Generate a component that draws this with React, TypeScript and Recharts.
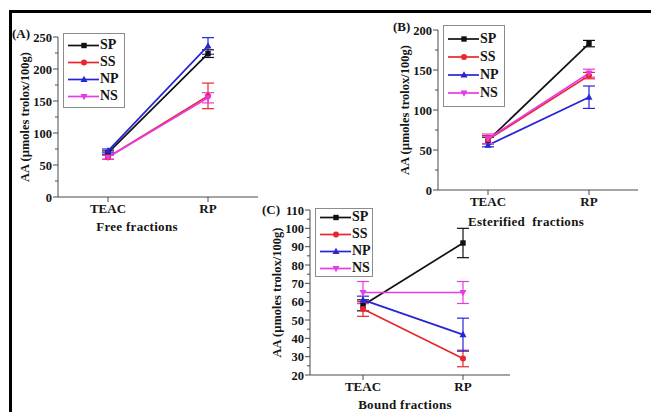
import { ErrorBar, Legend, Line, LineChart, XAxis, YAxis } from "recharts";

const categories = ["TEAC", "RP"];
const seriesNames = ["SP", "SS", "NP", "NS"];

// (A) free fractions
const freeSP = [69, 224];
const freeSS = [62, 158];
const freeNP = [72, 236];
const freeNS = [62, 155];
const freeSPErr = [3, 6];
const freeSSErr = [3, 20];
const freeNPErr = [3, 13];
const freeNSErr = [3, 8];
const freeTicks = [0, 25, 50, 75, 100, 125, 150, 175, 200, 225, 250];

// (B) esterified fractions
const estSP = [62, 183];
const estSS = [63, 143];
const estNP = [56, 116];
const estNS = [64, 146];
const estSPErr = [4, 4];
const estSSErr = [5, 4];
const estNPErr = [2, 14];
const estNSErr = [6, 5];
const estTicks = [0, 25, 50, 75, 100, 125, 150, 175, 200];

// (C) bound fractions
const boundSP = [58, 92];
const boundSS = [56, 29];
const boundNP = [61, 42];
const boundNS = [65, 65];
const boundSPErr = [3, 8];
const boundSSErr = [4, 4.5];
const boundNPErr = [2, 9];
const boundNSErr = [6, 6];
const boundTicks = [20, 25, 30, 35, 40, 45, 50, 55, 60, 65, 70, 75, 80, 85, 90, 95, 100, 105, 110];

const FONT = '"Liberation Serif", "Times New Roman", serif';
const AXIS = "#4a4a4a";
const INK = "#151515";

const styles: Record<string, { color: string; marker: string }> = {
  SP: { color: "#111111", marker: "square" },
  SS: { color: "#e8262c", marker: "circle" },
  NP: { color: "#2626d4", marker: "up" },
  NS: { color: "#e63ae6", marker: "down" },
};

const buildRows = (vals: number[][], errs: number[][]) =>
  categories.map((name, i) => {
    const row: Record<string, any> = { name };
    seriesNames.forEach((s, k) => {
      row[s] = vals[k][i];
      row[s + "Err"] = errs[k][i];
    });
    return row;
  });

const freeRows = buildRows([freeSP, freeSS, freeNP, freeNS], [freeSPErr, freeSSErr, freeNPErr, freeNSErr]);
const estRows = buildRows([estSP, estSS, estNP, estNS], [estSPErr, estSSErr, estNPErr, estNSErr]);
const boundRows = buildRows([boundSP, boundSS, boundNP, boundNS], [boundSPErr, boundSSErr, boundNPErr, boundNSErr]);

const Marker = ({ cx, cy, shape, color }: any) => {
  if (cx == null || cy == null) return null;
  if (shape === "square") return <rect x={cx - 2.7} y={cy - 2.7} width={5.4} height={5.4} fill={color} />;
  if (shape === "circle") return <circle cx={cx} cy={cy} r={3} fill={color} />;
  if (shape === "up")
    return <polygon points={`${cx},${cy - 3.8} ${cx - 3.5},${cy + 2.6} ${cx + 3.5},${cy + 2.6}`} fill={color} />;
  return <polygon points={`${cx},${cy + 3.8} ${cx - 3.5},${cy - 2.6} ${cx + 3.5},${cy - 2.6}`} fill={color} />;
};

const YTick = ({ x, y, payload, major }: any) => {
  const isMajor = payload.value % major === 0;
  return (
    <g>
      <line x1={x - (isMajor ? 5 : 3)} x2={x} y1={y} y2={y} stroke={AXIS} strokeWidth={1} />
      {isMajor && (
        <text x={x - 6} y={y} dy={4.5} textAnchor="end" fontFamily={FONT} fontWeight="bold" fontSize={12.5} fill={INK}>
          {payload.value}
        </text>
      )}
    </g>
  );
};

const LegendBox = ({ width, height, rowH }: any) => (
  <div
    style={{
      width,
      height,
      boxSizing: "border-box",
      border: "1px solid #8c8c8c",
      background: "#fff",
      display: "flex",
      flexDirection: "column",
      justifyContent: "center",
    }}
  >
    {seriesNames.map((name) => (
      <div key={name} style={{ display: "flex", alignItems: "center", height: rowH }}>
        <svg width={36} height={rowH} style={{ display: "block" }}>
          <line x1={4} x2={35} y1={rowH / 2} y2={rowH / 2} stroke={styles[name].color} strokeWidth={1.7} />
          <Marker cx={20} cy={rowH / 2} shape={styles[name].marker} color={styles[name].color} />
        </svg>
        <span style={{ fontFamily: FONT, fontWeight: "bold", fontSize: 14, color: INK, lineHeight: 1 }}>{name}</span>
      </div>
    ))}
  </div>
);

const Panel = ({
  rows,
  ticks,
  major,
  xTitle,
  left,
  top,
  height,
  padLeft,
  padRight,
  legend,
  titleDx,
  titleOffset,
}: any) => (
  <div style={{ position: "absolute", left, top, width: 248, height }}>
    <LineChart
      width={248}
      height={height}
      data={rows}
      margin={{ top: 17, right: 0, left: 0, bottom: 0 }}
      style={{ overflow: "visible" }}
    >
      <XAxis
        dataKey="name"
        height={40}
        padding={{ left: padLeft, right: padRight }}
        interval={0}
        tickSize={5}
        tickMargin={2}
        axisLine={{ stroke: AXIS }}
        tickLine={{ stroke: AXIS }}
        tick={{ fontFamily: FONT, fontWeight: "bold", fontSize: 13, fill: INK }}
        label={{
          value: xTitle,
          position: "insideBottom",
          offset: titleOffset,
          dx: titleDx,
          style: { fontFamily: FONT, fontWeight: "bold", fontSize: 13, letterSpacing: 0.3, fill: INK },
        }}
      />
      <YAxis
        width={48}
        type="number"
        domain={[ticks[0], ticks[ticks.length - 1]]}
        allowDataOverflow
        ticks={ticks}
        interval={0}
        tickSize={0}
        tickMargin={0}
        tickLine={false}
        axisLine={{ stroke: AXIS }}
        tick={(p: any) => <YTick {...p} major={major} />}
        label={{
          value: "AA (\u00b5moles trolox/100g)",
          angle: -90,
          position: "insideLeft",
          offset: 15,
          style: { textAnchor: "middle", fontFamily: FONT, fontWeight: "bold", fontSize: 12.5, fill: INK },
        }}
      />
      <Legend
        layout="vertical"
        align="center"
        verticalAlign="middle"
        wrapperStyle={{ left: 53, top: legend.top, width: "auto", height: "auto" }}
        content={() => <LegendBox width={legend.width} height={legend.height} rowH={legend.rowH} />}
      />
      {seriesNames.map((name) => (
        <Line
          key={name}
          type="linear"
          dataKey={name}
          stroke={styles[name].color}
          strokeWidth={1.7}
          isAnimationActive={false}
          activeDot={false}
          dot={(p: any) => <Marker key={`${name}-${p.index}`} cx={p.cx} cy={p.cy} shape={styles[name].marker} color={styles[name].color} />}
        >
          <ErrorBar dataKey={name + "Err"} direction="y" width={6} stroke={styles[name].color} strokeWidth={1.2} isAnimationActive={false} />
        </Line>
      ))}
    </LineChart>
  </div>
);

const letterStyle = {
  position: "absolute" as const,
  fontFamily: FONT,
  fontWeight: "bold" as const,
  fontSize: 13,
  lineHeight: "16px",
  color: INK,
};

export default function App() {
  return (
    <div style={{ position: "absolute", left: 0, top: 0, width: 651, height: 412, background: "#fff", overflow: "hidden" }}>
      <div
        style={{
          position: "absolute",
          left: 9,
          top: 10,
          right: 0,
          bottom: 0,
          borderTop: "3px solid #000",
          borderLeft: "3px solid #000",
        }}
      />
      <Panel
        rows={freeRows}
        ticks={freeTicks}
        major={50}
        xTitle="Free fractions"
        left={10}
        top={20}
        height={217}
        padLeft={50}
        padRight={50}
        titleDx={-21}
        titleOffset={6}
        legend={{ top: 13, width: 62, height: 75, rowH: 17 }}
      />
      <Panel
        rows={estRows}
        ticks={estTicks}
        major={50}
        xTitle={"Esterified\u00a0\u00a0fractions"}
        left={390}
        top={13}
        height={217}
        padLeft={50}
        padRight={49}
        titleDx={-12}
        titleOffset={4}
        legend={{ top: 12, width: 62, height: 82, rowH: 18 }}
      />
      <Panel
        rows={boundRows}
        ticks={boundTicks}
        major={10}
        xTitle="Bound fractions"
        left={262}
        top={193}
        height={222}
        padLeft={53}
        padRight={47}
        titleDx={-5}
        titleOffset={6}
        legend={{ top: 15, width: 58, height: 69, rowH: 17 }}
      />
      <div style={{ ...letterStyle, left: 12, top: 26 }}>(A)</div>
      <div style={{ ...letterStyle, left: 393, top: 19 }}>(B)</div>
      <div style={{ ...letterStyle, left: 262, top: 202 }}>(C)</div>
    </div>
  );
}
